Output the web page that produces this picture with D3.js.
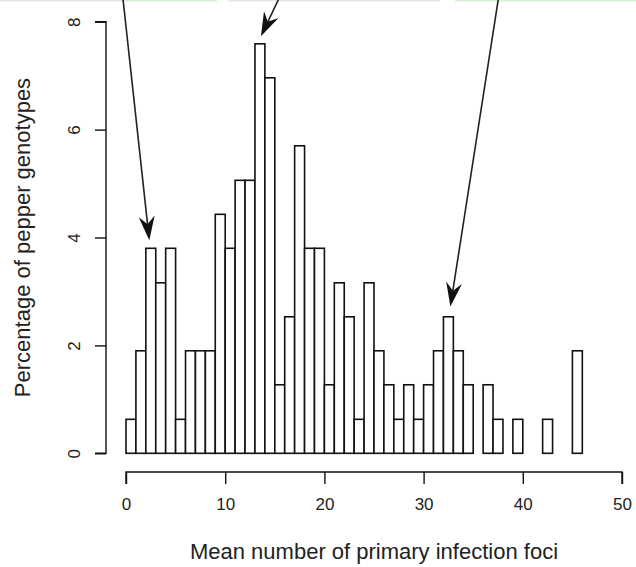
<!DOCTYPE html>
<html>
<head>
<meta charset="utf-8">
<script src="https://cdn.jsdelivr.net/npm/d3@7"></script>
<style>
  body { margin: 0; background: #fff; }
  text { font-family: "Liberation Sans", Arial, sans-serif; fill: #222; }
</style>
</head>
<body>
<svg id="chart" width="636" height="567"></svg>
<script>
// histogram bins (lower edges) and percentage of genotypes in each bin
const binEdges = [0,1,2,3,4,5,6,7,8,9,10,11,12,13,14,15,16,17,18,19,20,21,22,23,24,25,26,27,28,29,30,31,32,33,34,35,36,37,38,39,40,41,42,43,44,45,46];
const percents = [0.63,1.90,3.80,3.16,3.80,0.63,1.90,1.90,1.90,4.43,3.80,5.06,5.06,7.59,6.96,1.27,2.53,5.70,3.80,3.80,
                  1.27,3.16,2.53,0.63,3.16,1.90,1.27,0.63,1.27,0.63,1.27,1.90,2.53,1.90,1.27,0,1.27,0.63,0,0.63,
                  0,0,0.63,0,0,1.90];
const xTicks = [0,10,20,30,40,50];
const yTicks = [0,2,4,6,8];

// arrows pointing at the three peaks: [x0, y0, x1 (tip), y1 (tip)] in data units
const arrows = [
  [-0.35, 8.5, 2.35, 3.95],
  [15.6, 8.5, 13.6, 7.73],
  [37.6, 8.5, 32.7, 2.72]
];

const svg = d3.select("#chart");

const x = d3.scaleLinear().domain([0, 50]).range([126, 622]);
const y = d3.scaleLinear().domain([0, 8]).range([453.3, 21.7]);

// faint strip left over at the top edge
const strip = [[0, 130, "#e4e4e4"], [130, 217, "#d9f3d6"], [228, 440, "#e4e4e4"], [455, 636, "#d9f3d6"]];
svg.selectAll(".strip").data(strip).enter().append("rect")
  .attr("x", d => d[0]).attr("y", 0)
  .attr("width", d => d[1] - d[0]).attr("height", 1.5)
  .attr("fill", d => d[2]);

// bars
svg.append("g").selectAll("rect")
  .data(percents)
  .enter().append("rect")
    .attr("x", (d, i) => x(binEdges[i]))
    .attr("y", d => y(d))
    .attr("width", (d, i) => x(binEdges[i + 1]) - x(binEdges[i]))
    .attr("height", d => y(0) - y(d))
    .attr("fill", "#fff")
    .attr("stroke", "#111")
    .attr("stroke-width", 1.6);

// x axis
const xAxis = svg.append("g")
  .attr("transform", "translate(0,472)")
  .call(d3.axisBottom(x).tickValues(xTicks).tickSize(12).tickPadding(14).tickFormat(d3.format("d")));
xAxis.select(".domain").attr("stroke", "#111").attr("stroke-width", 1.4).attr("d", `M${x(0)},12V0H${x(50)}V12`);
xAxis.selectAll(".tick line").attr("stroke", "#111").attr("stroke-width", 1.4);
xAxis.selectAll(".tick text").style("font-size", "17px").attr("fill", "#222");

// y axis (R style, labels parallel to axis)
const yAxis = svg.append("g")
  .attr("transform", "translate(106,0)")
  .call(d3.axisLeft(y).tickValues(yTicks).tickSize(11).tickFormat(d3.format("d")));
yAxis.select(".domain").attr("stroke", "#111").attr("stroke-width", 1.4).attr("d", `M-11,${y(0)}H0V${y(8)}H-11`);
yAxis.selectAll(".tick line").attr("stroke", "#111").attr("stroke-width", 1.4);
yAxis.selectAll(".tick text")
  .style("font-size", "17px")
  .attr("x", null).attr("dy", null)
  .attr("text-anchor", "middle")
  .attr("transform", "translate(-26,0) rotate(-90)");

// axis titles
svg.append("text")
  .attr("x", x(25)).attr("y", 559)
  .attr("text-anchor", "middle")
  .style("font-size", "22px")
  .text("Mean number of primary infection foci");
svg.append("text")
  .attr("transform", `translate(30,${y(4)}) rotate(-90)`)
  .attr("text-anchor", "middle")
  .style("font-size", "22px")
  .text("Percentage of pepper genotypes");

// arrows
const ag = svg.append("g");
arrows.forEach(a => {
  const x0 = x(a[0]), y0 = y(a[1]), x1 = x(a[2]), y1 = y(a[3]);
  const ang = Math.atan2(y1 - y0, x1 - x0);
  const len = 24, half = 8, notch = 16;
  const ux = Math.cos(ang), uy = Math.sin(ang);
  const px = -uy, py = ux;
  const bx = x1 - ux * len, by = y1 - uy * len;
  const nx = x1 - ux * notch, ny = y1 - uy * notch;
  ag.append("line")
    .attr("x1", x0).attr("y1", y0).attr("x2", nx).attr("y2", ny)
    .attr("stroke", "#222").attr("stroke-width", 1.6);
  ag.append("path")
    .attr("d", `M${x1},${y1}L${bx + px * half},${by + py * half}L${nx},${ny}L${bx - px * half},${by - py * half}Z`)
    .attr("fill", "#111");
});
</script>
</body>
</html>
